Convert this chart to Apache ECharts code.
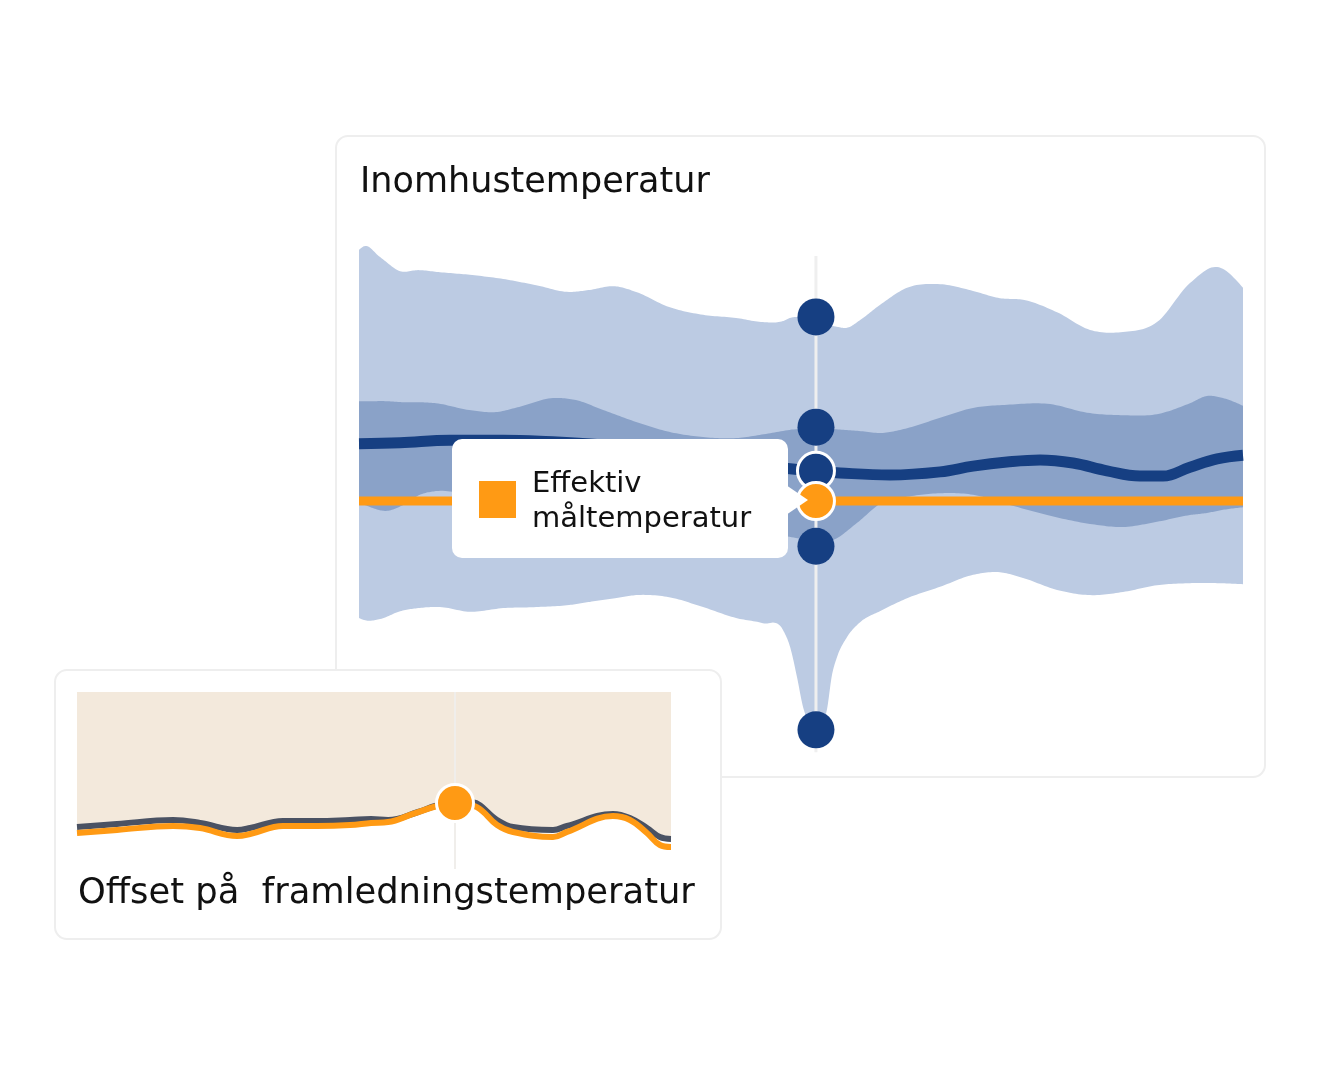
<!DOCTYPE html>
<html>
<head>
<meta charset="utf-8">
<script src="https://cdn.jsdelivr.net/npm/echarts/dist/echarts.min.js"></script>
<style>
html,body{margin:0;padding:0;background:#ffffff;}
#chart{width:1320px;height:1076px;}
</style>
</head>
<body>
<div id="chart"></div>
<script>
// ---------- Data: Inomhustemperatur (hours 0..26, °C) ----------
const outerX = [0,0.15,0.62,1.21,1.74,2.38,3.26,4.24,5.21,6.18,6.79,7.53,8.15,9.12,10.12,11.09,11.88,12.47,12.68,12.88,13.06,13.26,13.44,13.62,13.76,13.91,14.06,14.35,14.74,15.32,16.12,17.09,18.06,18.85,19.53,20.53,21.5,22.47,23.47,24.44,25.24,26];
const outerUpper = [24.83,24.90,24.69,24.42,24.44,24.40,24.35,24.27,24.15,24.02,24.06,24.13,24.02,23.73,23.58,23.52,23.44,23.46,23.52,23.54,23.52,23.50,23.48,23.44,23.40,23.37,23.35,23.33,23.48,23.77,24.10,24.17,24.04,23.90,23.87,23.63,23.29,23.25,23.44,24.19,24.50,24.10];
const outerLower = [17.75,17.71,17.73,17.88,17.94,17.96,17.87,17.94,17.96,18.00,18.06,18.13,18.19,18.15,17.96,17.75,17.65,17.52,17.19,16.62,16.04,15.71,15.56,15.71,15.98,16.65,17.00,17.38,17.67,17.88,18.13,18.35,18.58,18.63,18.52,18.29,18.19,18.25,18.38,18.42,18.42,18.40];

const innerX = [0,0.38,0.79,1.29,1.79,2.26,3.24,4.03,4.71,5.71,6.38,7.18,8.15,9.12,10.12,11.09,11.97,12.85,13.44,13.94,14.65,15.41,16.12,17.09,18.06,19.06,20.24,21.5,22.47,23.47,24.44,24.94,25.41,26];
const innerUpper = [21.92,21.92,21.92,21.90,21.90,21.88,21.75,21.71,21.81,21.98,21.94,21.75,21.52,21.33,21.23,21.21,21.29,21.38,21.38,21.38,21.35,21.31,21.40,21.60,21.79,21.85,21.87,21.69,21.65,21.67,21.88,22.02,21.98,21.83];
const innerLower = [19.98,19.87,19.81,19.92,20.12,20.19,20.13,20.10,20.06,20.00,19.96,19.90,19.83,19.73,19.63,19.50,19.38,19.29,19.21,19.25,19.58,19.98,20.08,20.15,20.12,19.94,19.73,19.56,19.50,19.60,19.73,19.77,19.83,19.88];

const indoorX = [0,1.21,2.68,4.24,5.32,7.09,8.85,10.62,12.68,13.44,14.15,15.62,17.09,18.06,19.06,20.03,21.0,22.0,22.97,23.65,24.44,25.24,26];
const indoorTemp = [21.10,21.12,21.17,21.17,21.15,21.08,20.94,20.79,20.62,20.58,20.54,20.50,20.56,20.67,20.75,20.79,20.73,20.58,20.48,20.48,20.65,20.81,20.88];

const targetX = [0, 26];
const targetTemp = [20.0, 20.0];

const markerX = 13.44;
const markerLineY = [24.71, 15.17];
const markerDots = [23.54, 21.42, 20.58, 20.00, 19.13, 15.60];
const markerKinds = ['band', 'band', 'line', 'target', 'band', 'band'];

// ---------- Data: Offset på framledningstemperatur (0..22) ----------
const offsetX = [0,1.48,3.56,4.56,5.93,6.41,7.63,8.89,10.11,10.89,11.52,12.63,13.26,14,14.63,15.56,16.15,17.63,18.15,19.85,20.48,21.11,21.59,22];
const offsetGrey = [-3.0,-2.8,-2.53,-2.73,-3.2,-3.07,-2.6,-2.6,-2.53,-2.47,-2.53,-2.0,-1.6,-1.27,-1.33,-2.53,-3.0,-3.2,-2.93,-2.13,-2.4,-3.07,-3.67,-3.8];
const offsetOrangeX = [0,1.48,3.56,4.56,5.93,6.41,7.63,8.89,10.11,10.89,11.52,12.44,13.33,14,14.81,15.56,16.15,17.63,18.15,19.85,20.48,21.11,21.59,22];
const offsetOrange = [-3.4,-3.2,-2.93,-3.07,-3.6,-3.47,-2.93,-2.93,-2.87,-2.73,-2.67,-2.13,-1.6,-1.4,-1.67,-2.87,-3.33,-3.67,-3.33,-2.27,-2.53,-3.4,-4.2,-4.33];
const offsetMarkerX = 14;
const offsetMarkerLineY = [6, -5.8];
const offsetDot = -1.4;

// ---------- Texts ----------
const titleMain = 'Inomhustemperatur';
const titleOffset = 'Offset på  framledningstemperatur';
const legendLine1 = 'Effektiv';
const legendLine2 = 'måltemperatur';

// ---------- Styles ----------
const LIGHT = '#bccbe3';
const MEDIUM = '#8aa2c8';
const DARK = '#163f82';
const ORANGE = '#ff9a14';
const BEIGE = '#f3e9dc';
const SLATE = '#4a5263';
const FONT = '"DejaVu Sans", sans-serif';

const pair = (xs, ys) => xs.map((x, i) => [x, ys[i]]);

// smooth cubic Hermite (weighted Catmull-Rom tangents) sampling of pixel points, x increasing
function sampleSmooth(pts, steps) {
  const n = pts.length;
  const h = [], s = [], t = new Array(n);
  for (let i = 0; i < n - 1; i++) {
    h[i] = pts[i + 1][0] - pts[i][0];
    s[i] = h[i] ? (pts[i + 1][1] - pts[i][1]) / h[i] : 0;
  }
  for (let i = 1; i < n - 1; i++) {
    t[i] = (s[i - 1] * h[i] + s[i] * h[i - 1]) / (h[i - 1] + h[i]);
  }
  t[0] = n > 2 ? (3 * s[0] - t[1]) / 2 : s[0];
  t[n - 1] = n > 2 ? (3 * s[n - 2] - t[n - 2]) / 2 : s[n - 2];
  const out = [pts[0].slice()];
  for (let i = 0; i < n - 1; i++) {
    const x0 = pts[i][0], y0 = pts[i][1], y1 = pts[i + 1][1], hh = h[i];
    for (let k = 1; k <= steps; k++) {
      const u = k / steps, u2 = u * u, u3 = u2 * u;
      const h00 = 2 * u3 - 3 * u2 + 1, h10 = u3 - 2 * u2 + u, h01 = -2 * u3 + 3 * u2, h11 = u3 - u2;
      out.push([x0 + hh * u, h00 * y0 + h10 * hh * t[i] + h01 * y1 + h11 * hh * t[i + 1]]);
    }
  }
  return out;
}

function bandSeries(xs, up, lo, color) {
  return {
    type: 'custom', xAxisIndex: 0, yAxisIndex: 0, silent: true,
    data: [[xs[0], up[0]]],
    renderItem: function (params, api) {
      const upPx = xs.map((x, i) => api.coord([x, up[i]]));
      const loPx = xs.map((x, i) => api.coord([x, lo[i]]));
      const top = sampleSmooth(upPx, 14);
      const bot = sampleSmooth(loPx, 14).reverse();
      return {type: 'polygon', shape: {points: top.concat(bot)}, style: {fill: color, stroke: null}};
    }
  };
}

const dotData = markerDots.map((v, i) => {
  const k = markerKinds[i];
  if (k === 'target') return {value: [markerX, v], itemStyle: {color: ORANGE, borderColor: '#ffffff', borderWidth: 3, opacity: 1}};
  if (k === 'line') return {value: [markerX, v], itemStyle: {color: DARK, borderColor: '#ffffff', borderWidth: 3, opacity: 1}};
  return {value: [markerX, v], itemStyle: {color: DARK, borderWidth: 0, opacity: 1}};
});

const chart = echarts.init(document.getElementById('chart'), null, {renderer: 'canvas'});

const option = {
  animation: false,
  backgroundColor: '#ffffff',
  grid: [
    {left: 359, top: 241, width: 884, height: 520},
    {left: 77, top: 692, width: 594, height: 180}
  ],
  xAxis: [
    {type: 'value', gridIndex: 0, min: 0, max: 26, show: false},
    {type: 'value', gridIndex: 1, min: 0, max: 22, show: false}
  ],
  yAxis: [
    {type: 'value', gridIndex: 0, min: 15, max: 25, show: false},
    {type: 'value', gridIndex: 1, min: -6, max: 6, show: false}
  ],
  graphic: [
    {type: 'rect', z: 0, shape: {x: 336, y: 136, width: 929, height: 641, r: 12},
     style: {fill: '#ffffff', stroke: '#eeeeee', lineWidth: 2}},
    {type: 'text', z: 1, x: 360, y: 183,
     style: {text: titleMain, fontFamily: FONT, fontSize: 35, fill: '#111111', verticalAlign: 'middle', align: 'left'}},
    {type: 'rect', z: 1, shape: {x: 55, y: 670, width: 666, height: 269, r: 12},
     style: {fill: '#ffffff', stroke: '#eeeeee', lineWidth: 2}},
    {type: 'text', z: 1, x: 78, y: 894,
     style: {text: titleOffset, fontFamily: FONT, fontSize: 35.3, fill: '#111111', verticalAlign: 'middle', align: 'left'}},
    {type: 'group', z: 20, children: [
      {type: 'rect', z: 20, shape: {x: 452, y: 439, width: 336, height: 119, r: 10}, style: {fill: '#ffffff'}},
      {type: 'polygon', z: 20, shape: {points: [[786, 485], [808, 500], [786, 515]]}, style: {fill: '#ffffff'}},
      {type: 'rect', z: 21, shape: {x: 479, y: 481, width: 37, height: 37}, style: {fill: ORANGE}},
      {type: 'text', z: 21, x: 532, y: 484,
       style: {text: legendLine1, fontFamily: FONT, fontSize: 29, fill: '#111111', verticalAlign: 'middle', align: 'left'}},
      {type: 'text', z: 21, x: 532, y: 519,
       style: {text: legendLine2, fontFamily: FONT, fontSize: 29, fill: '#111111', verticalAlign: 'middle', align: 'left'}}
    ]}
  ],
  series: [
    bandSeries(outerX, outerUpper, outerLower, LIGHT),
    bandSeries(innerX, innerUpper, innerLower, MEDIUM),
    {type: 'line', xAxisIndex: 0, yAxisIndex: 0, data: pair(indoorX, indoorTemp),
     symbol: 'none', smooth: 0.4, lineStyle: {color: DARK, width: 11}, silent: true},
    {type: 'line', xAxisIndex: 0, yAxisIndex: 0, data: pair(targetX, targetTemp),
     symbol: 'none', lineStyle: {color: ORANGE, width: 9}, silent: true},
    {type: 'line', xAxisIndex: 0, yAxisIndex: 0, data: [[markerX, markerLineY[0]], [markerX, markerLineY[1]]],
     symbol: 'none', clip: false, lineStyle: {color: '#efefef', width: 3}, silent: true},
    {type: 'scatter', xAxisIndex: 0, yAxisIndex: 0, data: dotData, symbol: 'circle', symbolSize: 37, z: 5, silent: true},

    {type: 'line', xAxisIndex: 1, yAxisIndex: 1, data: pair(offsetX, offsetGrey),
     symbol: 'none', smooth: 0.4, lineStyle: {color: SLATE, width: 6},
     areaStyle: {color: BEIGE, opacity: 1, origin: 'end'}, silent: true},
    {type: 'line', xAxisIndex: 1, yAxisIndex: 1, data: [[offsetMarkerX, offsetMarkerLineY[0]], [offsetMarkerX, offsetMarkerLineY[1]]],
     symbol: 'none', lineStyle: {color: '#f0eeeb', width: 2}, silent: true},
    {type: 'line', xAxisIndex: 1, yAxisIndex: 1, data: pair(offsetOrangeX, offsetOrange),
     symbol: 'none', smooth: 0.4, lineStyle: {color: ORANGE, width: 6}, silent: true},
    {type: 'scatter', xAxisIndex: 1, yAxisIndex: 1, data: [[offsetMarkerX, offsetDot]], symbol: 'circle', symbolSize: 37, z: 5,
     itemStyle: {color: ORANGE, borderColor: '#ffffff', borderWidth: 3, opacity: 1}, silent: true}
  ]
};
chart.setOption(option);
</script>
</body>
</html>
